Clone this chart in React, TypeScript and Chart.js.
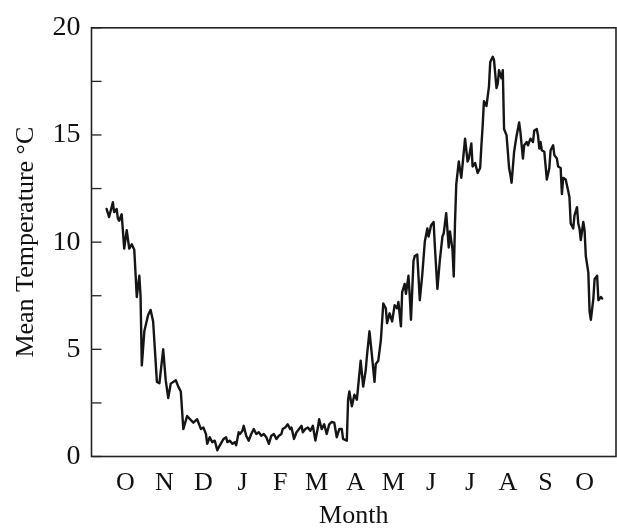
import { useEffect, useRef } from 'react';
import { Chart, registerables } from 'chart.js';

Chart.register(...registerables);

const FONT = '"Liberation Serif", "Times New Roman", Times, serif';

// Day of record (day 0 ≈ mid/late September) and daily mean temperature (°C)
const dayOfRecord = [
  0, 2, 5, 6, 8, 9, 10, 12, 14, 16,
  18, 20, 22, 24, 26, 27, 28, 30, 33, 35,
  37, 40, 42, 45, 47, 49, 51, 55, 57, 59,
  61, 64, 67, 69, 72, 75, 77, 79, 80, 82,
  84, 86, 88, 90, 93, 95, 96, 98, 100, 102,
  103, 105, 106, 108, 109, 111, 113, 115, 117, 119,
  121, 123, 125, 127, 129, 131, 133, 135, 137, 139,
  140, 142, 144, 146, 147, 149, 151, 153, 155, 156,
  158, 160, 162, 164, 166, 168, 169, 171, 173, 175,
  177, 179, 181, 183, 185, 187, 188, 191, 192, 193,
  195, 197, 199, 202, 204, 206, 207, 209, 211, 213,
  214, 216, 218, 220, 222, 223, 225, 227, 229, 231,
  232, 234, 235, 237, 238, 240, 241, 242, 244, 245,
  247, 249, 251, 253, 255, 256, 258, 260, 261, 263,
  265, 267, 268, 270, 272, 273, 275, 276, 277, 278,
  280, 282, 283, 285, 287, 288, 290, 291, 293, 295,
  297, 298, 299, 300, 302, 304, 305, 307, 308, 310,
  311, 312, 314, 315, 316, 318, 320, 321, 322, 324,
  326, 328, 329, 331, 332, 334, 335, 337, 339, 340,
  342, 343, 344, 345, 346, 348, 350, 352, 353, 355,
  356, 358, 359, 361, 362, 363, 365, 367, 368, 369,
  371, 372, 374, 375, 376, 377, 379, 380, 381, 383,
  384, 385, 387, 388, 390, 391, 393, 394,
];

const meanTemp = [
  11.55, 11.17, 11.86, 11.4, 11.55, 11.1, 11.0, 11.3, 9.7, 10.56,
  9.7, 9.9, 9.65, 7.44, 8.43, 7.5, 4.25, 5.84, 6.6, 6.84,
  6.3, 3.48, 3.42, 5.0, 3.56, 2.73, 3.4, 3.56, 3.26, 3.03,
  1.28, 1.89, 1.7, 1.58, 1.74, 1.28, 1.35, 1.05, 0.59, 0.9,
  0.67, 0.74, 0.29, 0.52, 0.82, 0.9, 0.67, 0.74, 0.59, 0.67,
  0.52, 1.13, 1.05, 1.2, 1.43, 0.97, 0.74, 1.05, 1.28, 1.05,
  1.13, 0.97, 1.05, 0.9, 0.59, 0.97, 1.05, 0.82, 0.97, 1.05,
  1.28, 1.35, 1.5, 1.28, 1.35, 0.82, 1.13, 1.28, 1.43, 1.13,
  1.28, 1.35, 1.2, 1.43, 0.74, 1.35, 1.74, 1.28, 1.5, 1.05,
  1.5, 1.61, 1.58, 0.9, 1.28, 1.28, 0.82, 0.74, 2.65, 3.03,
  2.34, 2.88, 2.65, 4.47, 3.26, 4.02, 4.7, 5.84, 4.7, 3.48,
  4.32, 4.47, 5.39, 7.14, 6.91, 6.22, 6.68, 6.3, 7.06, 6.91,
  7.21, 6.07, 7.67, 8.05, 7.59, 8.43, 7.52, 6.38, 9.12, 9.35,
  9.42, 7.29, 8.5, 10.03, 10.64, 10.26, 10.79, 10.94, 9.8, 7.82,
  9.19, 10.26, 10.4, 11.35, 9.75, 10.5, 9.65, 8.4, 10.9, 12.69,
  13.76, 13.0, 13.6, 14.83, 13.76, 13.9, 14.6, 13.53, 13.69, 13.23,
  13.46, 14.52, 15.43, 16.58, 16.35, 17.26, 18.4, 18.65, 18.5, 17.19,
  17.41, 18.02, 17.64, 18.02, 15.28, 14.98, 13.46, 13.15, 12.77, 14.22,
  14.98, 15.58, 15.13, 13.9, 14.52, 14.67, 14.52, 14.83, 14.67, 15.2,
  15.28, 14.98, 14.37, 14.67, 14.29, 14.22, 12.92, 13.46, 14.29, 14.52,
  14.06, 13.9, 13.53, 13.46, 12.24, 13.0, 12.92, 12.39, 12.09, 10.87,
  10.64, 11.25, 11.63, 10.87, 10.64, 10.1, 10.94, 10.56, 9.35, 8.58,
  6.76, 6.38, 7.37, 8.28, 8.43, 7.29, 7.44, 7.37,
];

const monthLabels = ['O', 'N', 'D', 'J', 'F', 'M', 'A', 'M', 'J', 'J', 'A', 'S', 'O'];
const monthTickDays = [15, 46, 77, 108, 138, 167, 198, 228, 258, 289, 319, 349, 380];

const yTicks = [0, 2.5, 5, 7.5, 10, 12.5, 15, 17.5, 20];

export default function App() {
  const ref = useRef<HTMLCanvasElement>(null);

  useEffect(() => {
    if (!ref.current) return;
    const framePlugin = {
      id: 'frame',
      afterDraw(chart: any) {
        const { ctx, chartArea } = chart;
        const { left, top, right, bottom } = chartArea;
        const ys = chart.scales.y;
        ctx.save();
        ctx.strokeStyle = '#222';
        ctx.lineWidth = 1.6;
        ctx.strokeRect(left, top, right - left, bottom - top);
        ctx.lineWidth = 1.3;
        ys.ticks.forEach((t: any) => {
          const py = ys.getPixelForValue(t.value);
          ctx.beginPath();
          ctx.moveTo(left, py);
          ctx.lineTo(left + 10, py);
          ctx.stroke();
        });
        ctx.restore();
      },
    };

    const chart = new Chart(ref.current, {
      type: 'line',
      data: {
        datasets: [
          {
            data: dayOfRecord.map((d, i) => ({ x: d, y: meanTemp[i] })),
            borderColor: '#151515',
            borderWidth: 2.4,
            borderJoinStyle: 'round',
            borderCapStyle: 'round',
            pointRadius: 0,
            fill: false,
            tension: 0,
          },
        ],
      },
      options: {
        animation: false,
        responsive: false,
        maintainAspectRatio: false,
        layout: { padding: { top: 20.5, right: 1, left: 0, bottom: 0 } },
        plugins: { legend: { display: false }, tooltip: { enabled: false } },
        scales: {
          x: {
            type: 'linear',
            min: -12,
            max: 405,
            grid: { display: false, drawTicks: false },
            border: { display: false },
            afterBuildTicks: (s: any) => {
              s.ticks = monthTickDays.map((v) => ({ value: v }));
            },
            afterFit: (s: any) => {
              s.height = 74.5;
            },
            ticks: {
              autoSkip: false,
              maxRotation: 0,
              padding: 11,
              color: '#111',
              font: { family: FONT, size: 26 },
              callback: (_v: any, i: number) => monthLabels[i],
            },
            title: {
              display: true,
              text: 'Month',
              color: '#111',
              font: { family: FONT, size: 26, lineHeight: 1 },
              padding: { top: 0, bottom: 1.5 },
            },
          },
          y: {
            type: 'linear',
            min: 0,
            max: 20,
            grid: { display: false, drawTicks: false },
            border: { display: false },
            afterBuildTicks: (s: any) => {
              s.ticks = yTicks.map((v) => ({ value: v }));
            },
            afterFit: (s: any) => {
              s.width = 91.5;
            },
            ticks: {
              padding: 11,
              color: '#111',
              font: { family: FONT, size: 28 },
              callback: (v: any) => (Number(v) % 5 === 0 ? String(v) : ''),
            },
            title: {
              display: true,
              text: 'Mean Temperature °C',
              color: '#111',
              font: { family: FONT, size: 26, lineHeight: 1.2 },
              padding: { top: 11, bottom: 0 },
            },
          },
        },
      },
      plugins: [framePlugin],
    });
    return () => chart.destroy();
  }, []);

  return (
    <div style={{ position: 'absolute', left: 0, top: 0, width: 617, height: 531, background: '#fff' }}>
      <canvas ref={ref} width={617} height={531} style={{ width: 617, height: 531, display: 'block' }} />
    </div>
  );
}
